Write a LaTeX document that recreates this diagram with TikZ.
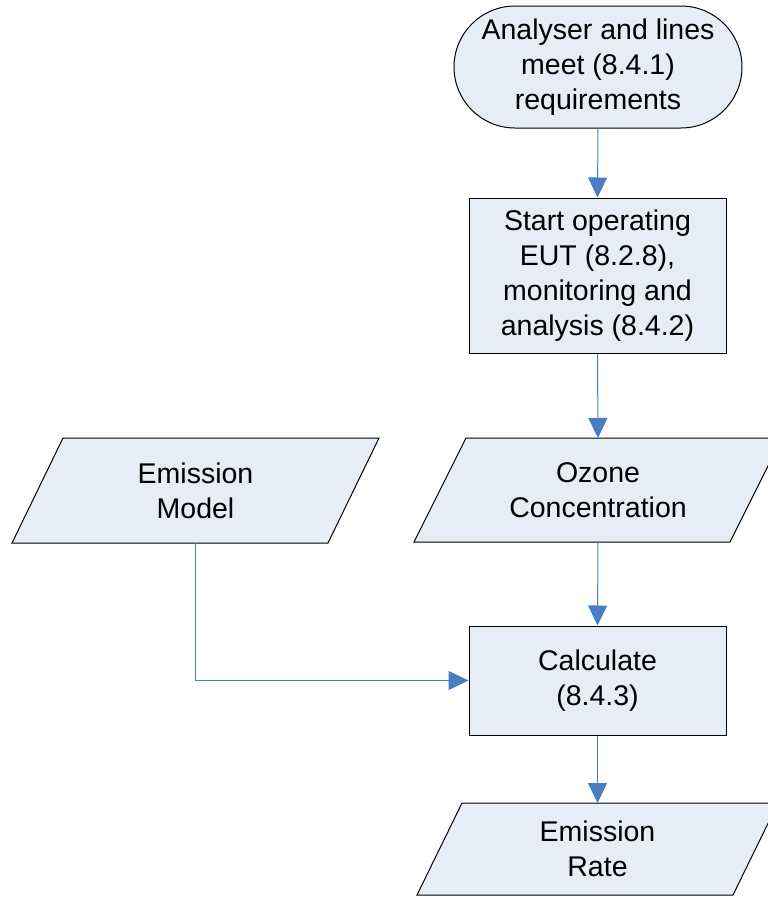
\documentclass[tikz,border=0pt]{standalone}
\usepackage{fontspec}
\setmainfont{Liberation Sans}
\usetikzlibrary{arrows.meta,backgrounds}
\definecolor{boxfill}{RGB}{231,237,247}
\definecolor{linkblue}{RGB}{74,126,193}
\tikzset{
  txt/.style={align=center,font=\fontsize{28.5}{35}\selectfont,inner sep=0pt,text=black},
  boxshape/.style={txt,draw=black,fill=boxfill,line width=1pt},
  pbox/.style={txt,minimum width=316pt,outer sep=0pt},
  pshape/.style={draw=black,fill=boxfill,line width=1pt,line join=miter},
  link/.style={draw=linkblue,line width=1pt,-{Triangle[length=20pt,width=19pt]}},
}
\newcommand\paralshape[2]{\draw[pshape] ([xshift=-#2]#1.south west) -- ([xshift=-#2]#1.south east) -- ([xshift=#2]#1.north east) -- ([xshift=#2]#1.north west) -- cycle;}
\begin{document}
\begin{tikzpicture}[x=1pt,y=-1pt]
\useasboundingbox (0,0) rectangle (768,897);
\node[boxshape,minimum width=288pt,minimum height=122pt,rounded corners=61pt] (start) at (598,67) {Analyser and lines\\meet (8.4.1)\\requirements};
\node[boxshape,minimum width=257pt,minimum height=155pt] (op) at (597.5,275.5) {Start operating\\EUT (8.2.8),\\monitoring and\\analysis (8.4.2)};
\node[pbox,minimum height=104pt] (oz) at (598,490) {Ozone\\Concentration};
\node[pbox,minimum height=105pt] (em) at (195.5,490.5) {Emission\\Model};
\node[boxshape,minimum width=257pt,minimum height=109pt] (calc) at (597.5,680.5) {Calculate\\(8.4.3)};
\node[pbox,minimum height=92pt] (rate) at (597.5,849) {Emission\\Rate};
\begin{pgfonlayer}{background}
\paralshape{oz}{26pt}
\paralshape{em}{25.5pt}
\paralshape{rate}{22.5pt}
\end{pgfonlayer}
\draw[link] (start.south) -- (op.north);
\draw[link] (op.south) -- (oz.north);
\draw[link] (oz.south) -- (calc.north);
\draw[link] (em.south) |- (calc.west);
\draw[link] (calc.south) -- (rate.north);
\end{tikzpicture}
\end{document}
